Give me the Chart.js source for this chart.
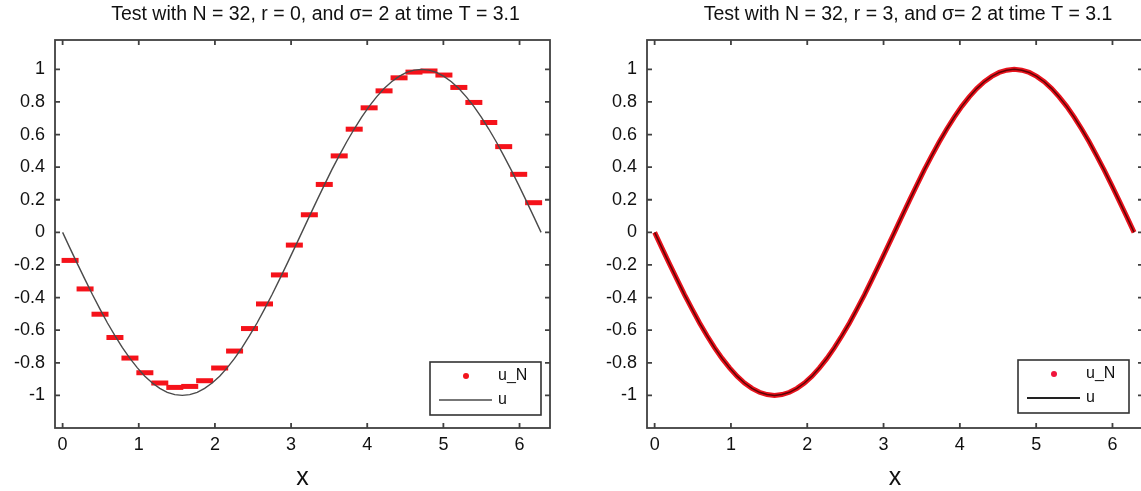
<!DOCTYPE html>
<html>
<head>
<meta charset="utf-8">
<script src="https://cdn.jsdelivr.net/npm/chart.js@4.4.1/dist/chart.umd.min.js"></script>
<style>
html, body { margin: 0; padding: 0; background: #fff; overflow: hidden; width: 1141px; height: 491px; }
.panel { position: absolute; top: 0; height: 491px; }
#leftBox { left: 0; width: 570px; }
#rightBox { left: 592px; width: 571px; }
</style>
</head>
<body>
<div class="panel" id="leftBox"><canvas id="leftChart"></canvas></div>
<div class="panel" id="rightBox"><canvas id="rightChart"></canvas></div>
<script>
// fine grid for the exact solution u
var xFine = [0, 0.098, 0.196, 0.295, 0.393, 0.491, 0.589, 0.687, 0.785, 0.884, 0.982, 1.080, 1.178,
    1.276, 1.374, 1.473, 1.571, 1.669, 1.767, 1.865, 1.963, 2.062, 2.160, 2.258, 2.356, 2.454, 2.553,
    2.651, 2.749, 2.847, 2.945, 3.043, 3.142, 3.240, 3.338, 3.436, 3.534, 3.632, 3.731, 3.829, 3.927,
    4.025, 4.123, 4.221, 4.320, 4.418, 4.516, 4.614, 4.712, 4.811, 4.909, 5.007, 5.105, 5.203, 5.301,
    5.400, 5.498, 5.596, 5.694, 5.792, 5.890, 5.989, 6.087, 6.185, 6.283];
var uExact = [0, -0.098, -0.195, -0.290, -0.383, -0.471, -0.556, -0.634, -0.707, -0.773, -0.831, -0.882,
    -0.924, -0.957, -0.981, -0.995, -1.000, -0.995, -0.981, -0.957, -0.924, -0.882, -0.831, -0.773,
    -0.707, -0.634, -0.556, -0.471, -0.383, -0.290, -0.195, -0.098, 0, 0.098, 0.195, 0.290, 0.383,
    0.471, 0.556, 0.634, 0.707, 0.773, 0.831, 0.882, 0.924, 0.957, 0.981, 0.995, 1.000, 0.995, 0.981,
    0.957, 0.924, 0.882, 0.831, 0.773, 0.707, 0.634, 0.556, 0.471, 0.383, 0.290, 0.195, 0.098, 0];

// numerical solution with r = 0, at the cell midpoints
var xMid = [0.098, 0.295, 0.491, 0.687, 0.884, 1.080, 1.276, 1.473, 1.669, 1.865, 2.062, 2.258,
    2.454, 2.651, 2.847, 3.043, 3.240, 3.436, 3.632, 3.829, 4.025, 4.221, 4.418, 4.614, 4.811, 5.007,
    5.203, 5.400, 5.596, 5.792, 5.989, 6.185];
var uN_r0 = [-0.172, -0.347, -0.502, -0.645, -0.771, -0.861, -0.924, -0.951, -0.945, -0.910, -0.832,
    -0.728, -0.590, -0.439, -0.261, -0.078, 0.108, 0.294, 0.469, 0.633, 0.764, 0.868, 0.948, 0.983,
    0.990, 0.965, 0.889, 0.797, 0.674, 0.526, 0.356, 0.182];

// numerical solution with r = 3 (sits on top of u)
var uN_r3 = [0, -0.098, -0.195, -0.290, -0.383, -0.471, -0.556, -0.634, -0.707, -0.773, -0.831, -0.882,
    -0.924, -0.957, -0.981, -0.995, -1.000, -0.995, -0.981, -0.957, -0.924, -0.882, -0.831, -0.773,
    -0.707, -0.634, -0.556, -0.471, -0.383, -0.290, -0.195, -0.098, 0, 0.098, 0.195, 0.290, 0.383,
    0.471, 0.556, 0.634, 0.707, 0.773, 0.831, 0.882, 0.924, 0.957, 0.981, 0.995, 1.000, 0.995, 0.981,
    0.957, 0.924, 0.882, 0.831, 0.773, 0.707, 0.634, 0.556, 0.471, 0.383, 0.290, 0.195, 0.098, 0];

var xTicks = [0, 1, 2, 3, 4, 5, 6];
var yTicks = [-1, -0.8, -0.6, -0.4, -0.2, 0, 0.2, 0.4, 0.6, 0.8, 1];
var titles = ['Test with N = 32, r = 0, and \u03c3= 2 at time T = 3.1',
              'Test with N = 32, r = 3, and \u03c3= 2 at time T = 3.1'];
var legendLabels = ['u_N', 'u'];

var fontFamily = '"Liberation Sans", Arial, Helvetica, sans-serif';
var textColor = '#111';

function toPoints(xs, ys) {
    return xs.map(function(x, i) { return { x: x, y: ys[i] }; });
}

// MATLAB style box: title, frame, inward ticks on all four sides, legend at bottom right
var matlabFrame = {
    id: 'matlabFrame',
    afterDatasetsDraw: function(chart, args, opts) {
        var ctx = chart.ctx;
        var a = chart.chartArea;
        var xs = chart.scales.x, ys = chart.scales.y;
        ctx.save();

        // title, a little right of the box centre like the original
        ctx.fillStyle = textColor;
        ctx.font = '19.5px ' + fontFamily;
        ctx.textAlign = 'center';
        ctx.textBaseline = 'middle';
        ctx.fillText(opts.title, (a.left + a.right) / 2 + 13, 15);

        ctx.strokeStyle = '#404040';
        ctx.lineWidth = 1.8;
        ctx.strokeRect(a.left, a.top, a.right - a.left, a.bottom - a.top);
        ctx.beginPath();
        xTicks.forEach(function(v) {
            var px = xs.getPixelForValue(v);
            ctx.moveTo(px, a.bottom); ctx.lineTo(px, a.bottom - 5);
            ctx.moveTo(px, a.top); ctx.lineTo(px, a.top + 5);
        });
        yTicks.forEach(function(v) {
            var py = ys.getPixelForValue(v);
            ctx.moveTo(a.left, py); ctx.lineTo(a.left + 5, py);
            ctx.moveTo(a.right, py); ctx.lineTo(a.right - 5, py);
        });
        ctx.stroke();

        // legend box
        var w = 111, h = 53;
        var bx = a.right - opts.rightGap - w;
        var by = a.bottom - opts.bottomGap - h;
        ctx.fillStyle = '#fff';
        ctx.fillRect(bx, by, w, h);
        ctx.strokeStyle = '#333';
        ctx.lineWidth = 1.6;
        ctx.strokeRect(bx, by, w, h);
        ctx.fillStyle = opts.markerColor;
        ctx.beginPath();
        ctx.arc(bx + 36, by + 14, 3, 0, Math.PI * 2);
        ctx.fill();
        ctx.strokeStyle = opts.lineColor;
        ctx.lineWidth = opts.lineWidth;
        ctx.beginPath();
        ctx.moveTo(bx + 9, by + 38); ctx.lineTo(bx + 62, by + 38);
        ctx.stroke();
        ctx.fillStyle = textColor;
        ctx.font = '16px ' + fontFamily;
        ctx.textAlign = 'left';
        ctx.fillText(legendLabels[0], bx + 68, by + 14);
        ctx.fillText(legendLabels[1], bx + 68, by + 38);
        ctx.restore();
    }
};

function makeOptions(frameOpts) {
    return {
        responsive: true,
        maintainAspectRatio: false,
        animation: false,
        layout: { padding: { left: 0, right: 20, top: 40, bottom: 0 } },
        plugins: {
            legend: { display: false },
            tooltip: { enabled: false },
            title: { display: false },
            matlabFrame: frameOpts
        },
        scales: {
            x: {
                type: 'linear',
                min: -0.1,
                max: 6.4,
                afterBuildTicks: function(scale) {
                    scale.ticks = xTicks.map(function(v) { return { value: v }; });
                },
                afterFit: function(scale) { scale.height = 63; },
                grid: { display: false, drawTicks: false },
                border: { display: false },
                ticks: {
                    color: textColor,
                    padding: 6,
                    maxRotation: 0,
                    font: { family: fontFamily, size: 18 },
                    callback: function(v) { return String(v); }
                },
                title: {
                    display: true,
                    text: 'x',
                    color: textColor,
                    font: { family: fontFamily, size: 25, lineHeight: 1.0 },
                    padding: { top: 0, bottom: 0 }
                }
            },
            y: {
                type: 'linear',
                min: -1.2,
                max: 1.18,
                afterBuildTicks: function(scale) {
                    scale.ticks = yTicks.map(function(v) { return { value: v }; });
                },
                afterFit: function(scale) { scale.width = 55; },
                grid: { display: false, drawTicks: false },
                border: { display: false },
                ticks: {
                    color: textColor,
                    padding: 10,
                    font: { family: fontFamily, size: 18 },
                    callback: function(v) { return String(Number(v.toFixed(1))); }
                }
            }
        }
    };
}

// left panel: r = 0
new Chart(document.getElementById('leftChart'), {
    type: 'scatter',
    data: {
        datasets: [{
            label: legendLabels[1],
            data: toPoints(xFine, uExact),
            showLine: true,
            borderColor: '#4a4a4a',
            borderWidth: 1.4,
            pointRadius: 0
        }, {
            label: legendLabels[0],
            data: toPoints(xMid, uN_r0),
            showLine: false,
            pointStyle: 'line',
            pointRadius: 8.5,
            pointBorderWidth: 5,
            borderColor: '#f5121a',
            backgroundColor: '#f5121a'
        }]
    },
    options: makeOptions({
        title: titles[0], rightGap: 9, bottomGap: 13,
        markerColor: '#f2141c', lineColor: '#4a4a4a', lineWidth: 1.6
    }),
    plugins: [matlabFrame]
});

// right panel: r = 3
new Chart(document.getElementById('rightChart'), {
    type: 'scatter',
    data: {
        datasets: [{
            label: legendLabels[1],
            data: toPoints(xFine, uExact),
            showLine: true,
            borderColor: 'rgba(70, 0, 0, 0.85)',
            borderWidth: 1.5,
            pointRadius: 0
        }, {
            label: legendLabels[0],
            data: toPoints(xFine, uN_r3),
            showLine: true,
            borderColor: '#e8121c',
            borderWidth: 5,
            pointRadius: 0
        }]
    },
    options: makeOptions({
        title: titles[1], rightGap: 14, bottomGap: 15,
        markerColor: '#f0143c', lineColor: '#222', lineWidth: 2
    }),
    plugins: [matlabFrame]
});
</script>
</body>
</html>
